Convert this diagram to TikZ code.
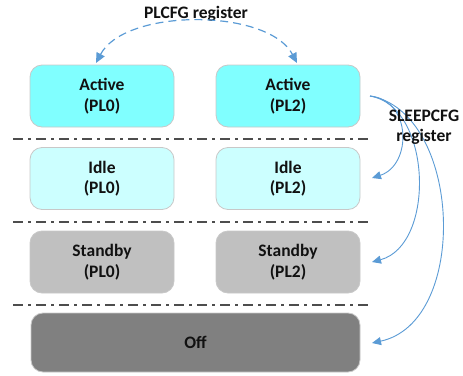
\documentclass[tikz,border=0pt]{standalone}
\usepackage{fontspec}
\setmainfont{Carlito}
\usetikzlibrary{arrows.meta}
\definecolor{activec}{HTML}{80FFFF}
\definecolor{idlec}{HTML}{CCFFFF}
\definecolor{standbyc}{HTML}{C0C0C0}
\definecolor{offc}{HTML}{808080}
\definecolor{edgec}{HTML}{C8C8C8}
\definecolor{arrowc}{HTML}{5B9BD5}
\definecolor{sepc}{HTML}{4D4D4D}
\definecolor{txtc}{HTML}{111111}
\tikzset{
  state/.style={draw=edgec, line width=0.8pt, rounded corners=12pt, minimum width=144pt, minimum height=62pt,
    align=center, font=\fontsize{17.5}{20.5}\selectfont\bfseries, text=txtc, inner sep=0pt},
  sepline/.style={draw=sepc, line width=1.4pt, dash pattern=on 10pt off 5pt on 3pt off 5pt},
  regarrow/.style={draw=arrowc, line width=0.9pt, -{Triangle[length=9pt,width=8pt]}},
  plarrow/.style={draw=arrowc, line width=1.2pt, dash pattern=on 8pt off 5pt, {Triangle[length=10pt,width=9pt]}-{Triangle[length=10pt,width=9pt]}},
  lbl/.style={font=\fontsize{17.5}{20.5}\selectfont\bfseries, text=txtc, align=center, inner sep=0pt}
}
\begin{document}
\begin{tikzpicture}[x=1pt,y=-1pt]
\useasboundingbox (0,0) rectangle (463,375);
% states
\node[state, fill=activec] (a0) at (102,96) {Active\\(PL0)};
\node[state, fill=activec] (a2) at (288,96) {Active\\(PL2)};
\node[state, fill=idlec] (i0) at (102,178.5) {Idle\\(PL0)};
\node[state, fill=idlec] (i2) at (288,178.5) {Idle\\(PL2)};
\node[state, fill=standbyc] (s0) at (102,262) {Standby\\(PL0)};
\node[state, fill=standbyc] (s2) at (288,262) {Standby\\(PL2)};
\node[state, fill=offc, minimum width=329pt, minimum height=59pt] (off) at (195.5,342.5) {Off};
% separators
\coordinate (l1a) at (13,139); \coordinate (l1b) at (372,139);
\coordinate (l2a) at (13,222); \coordinate (l2b) at (372,222);
\coordinate (l3a) at (13,305); \coordinate (l3b) at (372,305);
\draw[sepline] (l1a) -- (l1b);
\draw[sepline] (l2a) -- (l2b);
\draw[sepline] (l3a) -- (l3b);
% PLCFG
\node[lbl] (plcfg) at (196,14) {PLCFG register};
\coordinate (pa) at (96,63);
\coordinate (pb) at (297,63);
\draw[plarrow] (pa) .. controls (125,8) and (268,8) .. (pb);
% SLEEPCFG
\coordinate (src) at (370,96);
\coordinate (t1) at (372,178);
\coordinate (t2) at (372,262);
\coordinate (t3) at (372,343);
\draw[regarrow] (src) .. controls (412,100) and (412,165) .. (t1);
\draw[regarrow] (src) .. controls (432,106) and (436,245) .. (t2);
\draw[regarrow] (src) .. controls (462,112) and (470,322) .. (t3);
\node[lbl] (sleep) at (424,127) {SLEEPCFG\\register};
\end{tikzpicture}
\end{document}
